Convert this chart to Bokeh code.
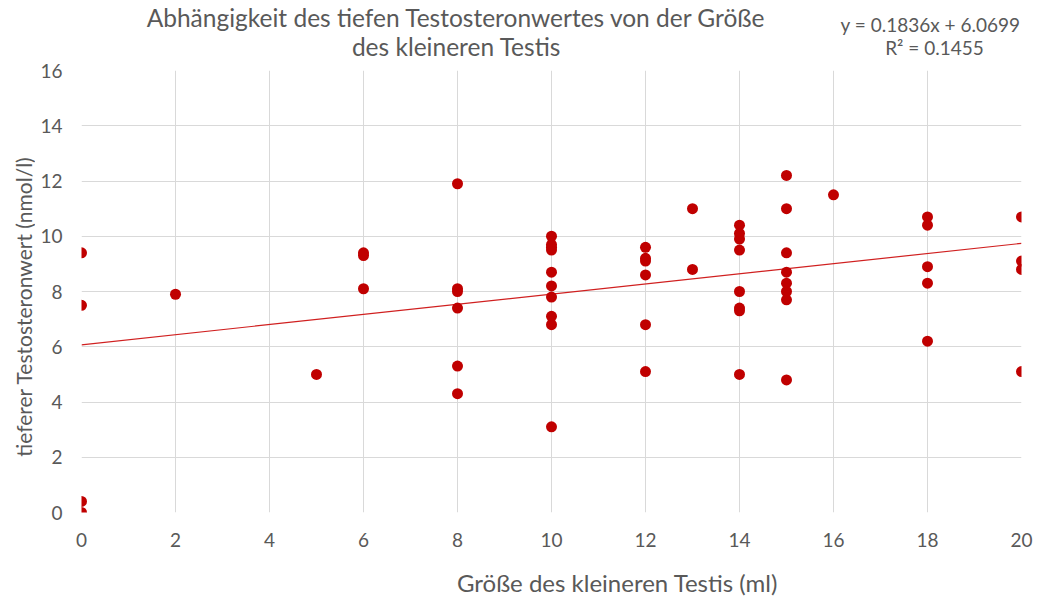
import math
from bokeh.plotting import figure
from bokeh.models import FixedTicker, Range1d
from bokeh.layouts import column, row
from bokeh.core.properties import value
from bokeh.embed import file_html
from bokeh.resources import INLINE

# Data
size_ml = [0, 0, 0, 0,
           2,
           5,
           6, 6, 6,
           8, 8, 8, 8, 8, 8,
           10, 10, 10, 10, 10, 10, 10, 10, 10, 10,
           12, 12, 12, 12, 12, 12,
           13, 13,
           14, 14, 14, 14, 14, 14, 14, 14,
           15, 15, 15, 15, 15, 15, 15, 15,
           16,
           18, 18, 18, 18, 18,
           20, 20, 20, 20]
testo = [9.4, 7.5, 0.4, 0.0,
         7.9,
         5.0,
         9.4, 9.3, 8.1,
         11.9, 8.1, 8.0, 7.4, 5.3, 4.3,
         10.0, 9.7, 9.6, 9.5, 8.7, 8.2, 7.8, 7.1, 6.8, 3.1,
         9.6, 9.2, 9.1, 8.6, 6.8, 5.1,
         11.0, 8.8,
         10.4, 10.1, 9.9, 9.5, 8.0, 7.4, 7.3, 5.0,
         12.2, 11.0, 9.4, 8.7, 8.3, 8.0, 7.7, 4.8,
         11.5,
         10.7, 10.4, 8.9, 8.3, 6.2,
         10.7, 9.1, 8.8, 5.1]

slope = 0.1836
intercept = 6.0699
r2 = 0.1455
trend_x = [0, 20]
trend_y = [intercept + slope * v for v in trend_x]

x_ticks = [0, 2, 4, 6, 8, 10, 12, 14, 16, 18, 20]
y_ticks = [0, 2, 4, 6, 8, 10, 12, 14, 16]

title_lines = ["Abhängigkeit des tiefen Testosteronwertes von der Größe",
               "des kleineren Testis"]
eq_lines = ["y = 0.1836x + 6.0699", "R² = 0.1455"]
x_label = "Größe des kleineren Testis (ml)"
y_label = "tieferer Testosteronwert (nmol/l)"

FONT = "Lato"
TXT = "#595959"
GRID = "#d9d9d9"
RED = "#C00000"

W = 1040           # total width
FL, FR = 81, 1021  # frame left / right (page px)
TOP_H = 60         # height of title strip
MAIN_TOP = 10      # main figure border above the frame
FRAME_H = 442
MAIN_BOTTOM = 42
BOTTOM_H = 42
LEFT_W = 35


def strip(width, height, xr, yr, left=0, right=0, top=0, bottom=0):
    f = figure(width=width, height=height, output_backend="svg", toolbar_location=None,
               title=None, x_range=Range1d(*xr), y_range=Range1d(*yr),
               min_border=0, min_border_left=left, min_border_right=right,
               min_border_top=top, min_border_bottom=bottom)
    f.axis.visible = False
    f.grid.visible = False
    f.outline_line_color = None
    return f


# Top strip: chart title and trendline equation (page pixel coordinates)
top = strip(W, TOP_H, (FL, FR), (TOP_H, 0), left=FL, right=W - FR)
top.text(x=[456, 456], y=[17, 45.5], text=title_lines, text_font=value(FONT),
         text_font_size="24.5px", text_color=TXT, text_align="center",
         text_baseline="middle", text_line_height=1.0)
top.text(x=[1020], y=[24], text=[eq_lines[0]], text_font=value(FONT),
         text_font_size="19px", text_color=TXT, text_align="right",
         text_baseline="middle", text_line_height=1.0)
top.text(x=[934], y=[47], text=[eq_lines[1]], text_font=value(FONT),
         text_font_size="19px", text_color=TXT, text_align="center",
         text_baseline="middle", text_line_height=1.0)

MAIN_H = MAIN_TOP + FRAME_H + MAIN_BOTTOM

# Left strip: y axis title
left = strip(LEFT_W, MAIN_H, (0, LEFT_W), (TOP_H + MAIN_TOP + FRAME_H, TOP_H + MAIN_TOP),
             top=MAIN_TOP, bottom=MAIN_BOTTOM)
left.text(x=[23], y=[306], text=[y_label], angle=math.pi / 2, text_font=value(FONT),
          text_font_size="21px", text_color=TXT, text_align="center",
          text_baseline="middle")

# Main chart
p = figure(width=W - LEFT_W, height=MAIN_H, output_backend="svg", toolbar_location=None,
           title=None, x_range=(0, 20), y_range=(0, 16),
           min_border_left=FL - LEFT_W, min_border_right=W - FR,
           min_border_top=MAIN_TOP, min_border_bottom=MAIN_BOTTOM)
p.outline_line_color = None

for ax in (p.xaxis[0], p.yaxis[0]):
    ax.major_tick_line_color = None
    ax.minor_tick_line_color = None
    ax.major_tick_out = 0
    ax.major_tick_in = 0
    ax.minor_tick_out = 0
    ax.minor_tick_in = 0
    ax.axis_line_color = None
    ax.axis_label_standoff = 0
    ax.major_label_text_font = FONT
    ax.major_label_text_color = TXT
    ax.major_label_text_font_size = "19px"
    ax.major_label_text_line_height = 1.0
p.xaxis[0].ticker = FixedTicker(ticks=x_ticks)
p.yaxis[0].ticker = FixedTicker(ticks=y_ticks)
p.xaxis[0].major_label_standoff = 20
p.yaxis[0].major_label_standoff = 19

p.xgrid[0].ticker = FixedTicker(ticks=x_ticks)
p.ygrid[0].ticker = FixedTicker(ticks=y_ticks)
p.xgrid.grid_line_color = GRID
p.ygrid.grid_line_color = GRID
p.xgrid.grid_line_width = 1
p.ygrid.grid_line_width = 1

p.line(trend_x, trend_y, line_color="#d02020", line_width=1.2)
p.scatter(size_ml, testo, size=11, fill_color=RED, line_color=RED, line_width=0)

# Bottom strip: x axis title
bottom = strip(W, BOTTOM_H, (FL, FR), (BOTTOM_H, 0), left=FL, right=W - FR)
bottom.text(x=[617], y=[28], text=[x_label], text_font=value(FONT),
            text_font_size="24px", text_color=TXT, text_align="center",
            text_baseline="middle")

layout = column(top, row(left, p, spacing=0), bottom, spacing=0)
open("out.html", "w").write(file_html(layout, INLINE))
